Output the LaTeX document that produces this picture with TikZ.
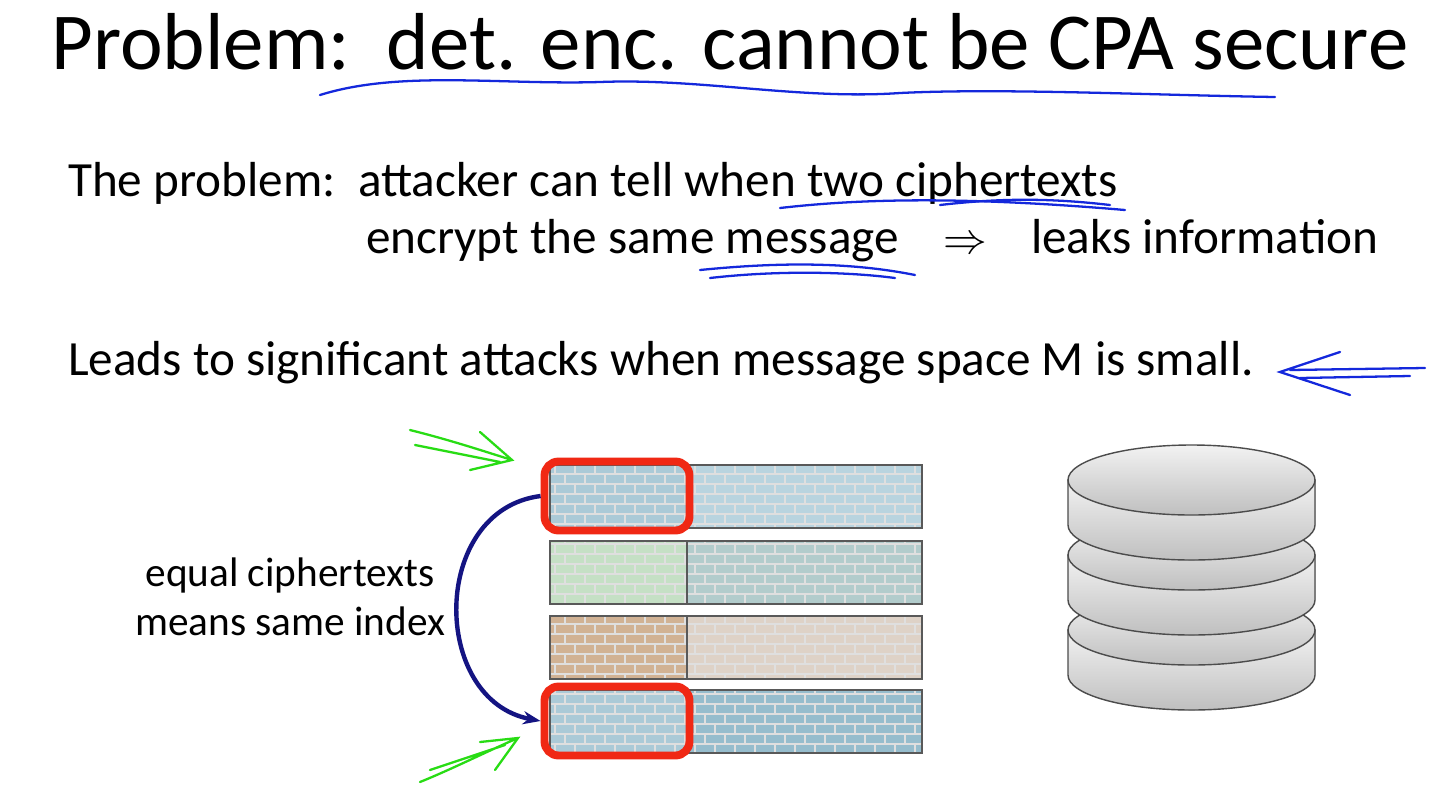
\documentclass[tikz,border=0pt]{standalone}
\usepackage{fontspec}
\setmainfont{Carlito}
\usetikzlibrary{arrows.meta,patterns}
\begin{document}
\begin{tikzpicture}[x=0.02cm,y=-0.02cm,
  cell/.style={draw=gray!70!black,line width=0.6pt},
  redbox/.style={draw={rgb,255:red,240;green,40;blue,20},line width=4.5pt,rounded corners=8pt},
  ink/.style={draw={rgb,255:red,20;green,40;blue,220},line width=1.3pt,line cap=round},
  gink/.style={draw={rgb,255:red,40;green,220;blue,20},line width=1.3pt,line cap=round},
  disk/.style={draw=gray!60!black,line width=0.8pt,top color=gray!10,bottom color=gray!50}]
\useasboundingbox (0,0) rectangle (1445,799);
\fill[white] (0,0) rectangle (1445,799);
% title
\node[anchor=center,font=\fontsize{46}{50}\selectfont] (title) at (730,42) {Problem:\ \ det. enc. cannot be CPA secure};
\node[anchor=west,font=\fontsize{28}{32}\selectfont] (p1) at (62,183) {The problem:\ \ attacker can tell when two ciphertexts};
\node[anchor=west,font=\fontsize{28}{32}\selectfont] (p2) at (360,241) {encrypt the same message\hspace{0.9em}$\Rightarrow$\hspace{0.9em}leaks information};
\node[anchor=west,font=\fontsize{28}{32}\selectfont] (p3) at (62,363) {Leads to significant attacks when message space M is small.};
\node[align=center,font=\fontsize{23.5}{28}\selectfont] (lbl) at (290,597) {equal ciphertexts\\means same index};
% table
\foreach \y/\ca/\cb [count=\i] in {465/cyan!40!gray!55/cyan!40!gray!45, 541/green!30!gray!35/teal!50!gray!40, 616/orange!40!gray!60/orange!25!gray!35, 690/cyan!40!gray!55/cyan!40!gray!70}{
  \fill[\ca] (550,\y) rectangle (687,\y+63);
  \fill[\cb] (687,\y) rectangle (922,\y+63);
  \fill[pattern=bricks,pattern color=white!75!gray] (550,\y) rectangle (922,\y+63);
  \draw[cell] (550,\y) rectangle (922,\y+63);
  \draw[cell] (687,\y) -- (687,\y+63);
}
\node[redbox,minimum width=2.9cm,minimum height=1.38cm] (r1) at (617,496) {};
\node[redbox,minimum width=2.9cm,minimum height=1.38cm] (r4) at (617,721) {};
\draw[-{Stealth[length=10pt]},line width=2.5pt,draw={rgb,255:red,20;green,20;blue,130}] (r1.west) .. controls (430,510) and (430,700) .. (r4.west);
% database
\foreach \yt in {630,555,480}{
  \fill[disk] (1068,\yt) -- (1068,\yt+45) arc[start angle=180,end angle=360,x radius=123.5,y radius=-35] -- (1315,\yt) -- cycle;
  \draw[disk] (1191.5,\yt) ellipse[x radius=123.5,y radius=35];
}
% handwriting
\draw[ink] (320,95) .. controls (400,70) and (500,85) .. (600,82) .. controls (700,78) and (800,100) .. (900,93) .. controls (1000,88) and (1150,95) .. (1275,97);
\draw[ink] (780,208) .. controls (850,200) and (950,195) .. (1125,210);
\draw[ink] (940,205) .. controls (1000,198) and (1050,198) .. (1110,205);
\draw[ink] (700,270) .. controls (780,262) and (850,262) .. (915,275);
\draw[ink] (710,278) .. controls (780,270) and (850,272) .. (895,278);
\draw[ink] (1425,368) -- (1290,370) (1340,352) -- (1280,372) -- (1350,395) (1300,378) -- (1410,376);
\draw[gink] (410,430) .. controls (450,440) and (480,450) .. (512,460) (480,432) -- (512,460) -- (470,470) (415,445) -- (500,462);
\draw[gink] (420,782) .. controls (450,770) and (490,750) .. (518,738) (480,742) -- (518,738) -- (495,770) (430,770) -- (505,745);
\end{tikzpicture}
\end{document}
